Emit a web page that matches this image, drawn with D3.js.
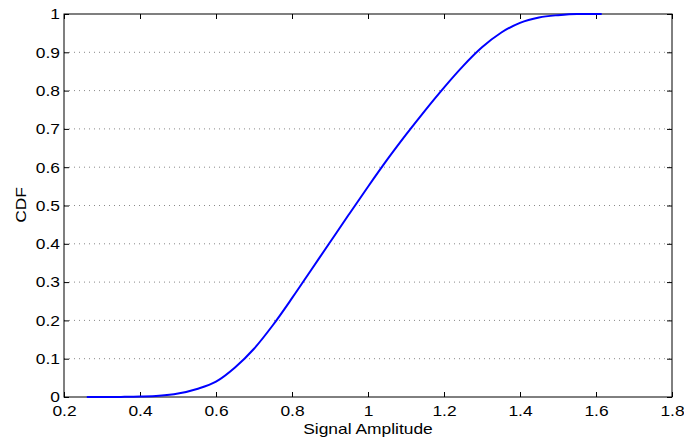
<!DOCTYPE html>
<html>
<head>
<meta charset="utf-8">
<script src="https://cdn.jsdelivr.net/npm/d3@7"></script>
<style>
  body { margin: 0; background: #fff; }
  text { font-family: "Liberation Sans", Arial, sans-serif; }
</style>
</head>
<body>
<svg width="684" height="441"></svg>
<script>
// CDF of signal amplitude
var amplitude = [0.26, 0.30, 0.35, 0.40, 0.45, 0.50, 0.55, 0.60, 0.65, 0.70, 0.75, 0.80, 0.85, 0.90,
                 0.95, 1.00, 1.05, 1.10, 1.15, 1.20, 1.25, 1.30, 1.35, 1.40, 1.45, 1.50, 1.55, 1.615];
var cdf = [0, 0, 0.0003, 0.001, 0.003, 0.009, 0.021, 0.040, 0.077, 0.126, 0.188, 0.258, 0.331, 0.404,
           0.477, 0.549, 0.619, 0.685, 0.748, 0.808, 0.864, 0.913, 0.951, 0.977, 0.991, 0.997, 1, 1];

var xTicks = [0.2, 0.4, 0.6, 0.8, 1, 1.2, 1.4, 1.6, 1.8];
var yTicks = [0, 0.1, 0.2, 0.3, 0.4, 0.5, 0.6, 0.7, 0.8, 0.9, 1];

var svg = d3.select("svg"),
    margin = { top: 14, right: 12, bottom: 44, left: 64 },
    width = +svg.attr("width") - margin.left - margin.right,
    height = +svg.attr("height") - margin.top - margin.bottom;

// the original text is a bit wider than Liberation Sans
var stretch = 1.16;

var x = d3.scaleLinear().domain([0.2, 1.8]).range([0, width]);
var y = d3.scaleLinear().domain([0, 1]).range([height, 0]);

var g = svg.append("g")
    .attr("transform", "translate(" + margin.left + "," + margin.top + ")");

// dotted horizontal grid
g.selectAll(".grid")
    .data(yTicks.slice(1, -1))
    .enter().append("line")
    .attr("x1", 0).attr("x2", width)
    .attr("y1", d => y(d)).attr("y2", d => y(d))
    .attr("stroke", "#888")
    .attr("stroke-width", 1)
    .attr("stroke-dasharray", "1,4");

// axes, matlab style ticks pointing inward on all four sides
function styleAxis(sel) {
    sel.select(".domain").remove();
    sel.selectAll("line").attr("stroke", "#000");
    sel.selectAll("text")
        .attr("fill", "#000")
        .attr("transform", "scale(" + stretch + ",1)")
        .style("font-size", "15px");
}

g.append("g")
    .attr("transform", "translate(0," + height + ")")
    .call(d3.axisBottom(x).tickValues(xTicks).tickFormat(d3.format("")).tickSizeInner(-5).tickPadding(8.5))
    .call(styleAxis);

g.append("g")
    .call(d3.axisTop(x).tickValues(xTicks).tickSizeInner(-5).tickFormat(""))
    .call(styleAxis);

g.append("g")
    .call(d3.axisLeft(y).tickValues(yTicks).tickFormat(d3.format("")).tickSizeInner(-5).tickPadding(3.5))
    .call(styleAxis);

g.append("g")
    .attr("transform", "translate(" + width + ",0)")
    .call(d3.axisRight(y).tickValues(yTicks).tickSizeInner(-5).tickFormat(""))
    .call(styleAxis);

g.append("rect")
    .attr("width", width).attr("height", height)
    .attr("fill", "none")
    .attr("stroke", "#000")
    .attr("stroke-width", 1);

// curve
var line = d3.line()
    .x((d, i) => x(amplitude[i]))
    .y(d => y(d))
    .curve(d3.curveMonotoneX);

g.append("path")
    .datum(cdf)
    .attr("d", line)
    .attr("fill", "none")
    .attr("stroke", "#0000ff")
    .attr("stroke-width", 2);

// axis titles
svg.append("text")
    .attr("transform", "translate(" + (margin.left + width / 2) + "," + (margin.top + height + 37) + ") scale(" + stretch + ",1)")
    .attr("text-anchor", "middle")
    .style("font-size", "15px")
    .text("Signal Amplitude");

svg.append("text")
    .attr("transform", "translate(26,205) rotate(-90) scale(" + stretch + ",1)")
    .attr("text-anchor", "middle")
    .style("font-size", "15px")
    .text("CDF");
</script>
</body>
</html>
